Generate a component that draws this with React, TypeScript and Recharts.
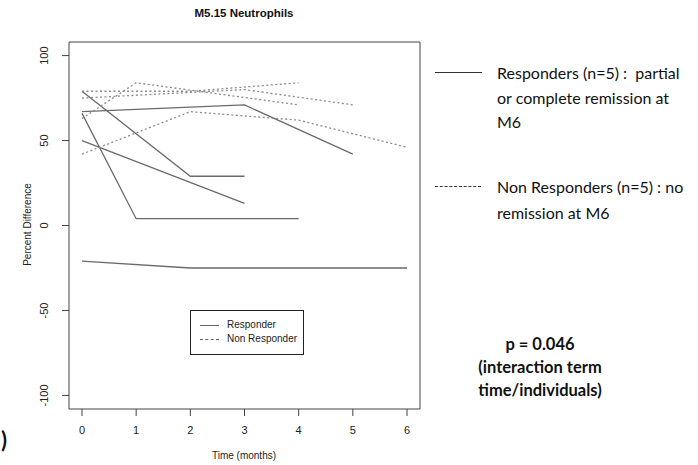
import { LineChart, Line, XAxis, YAxis, ReferenceArea } from "recharts";

// months observed and percent difference for each subject
const responder1 = [[0, 79], [2, 29], [3, 29]];
const responder2 = [[0, 67], [3, 71], [5, 42]];
const responder3 = [[0, 66], [1, 4], [4, 4]];
const responder4 = [[0, 50], [3, 13]];
const responder5 = [[0, -21], [2, -25], [6, -25]];

const nonResponder1 = [[0, 79], [2, 79], [4, 84]];
const nonResponder2 = [[0, 75], [3, 80], [5, 71]];
const nonResponder3 = [[0, 63], [1, 84], [4, 71]];
const nonResponder4 = [[0, 42], [2, 67], [4, 62], [6, 46]];

const xTicks = [0, 1, 2, 3, 4, 5, 6];
const yTicks = [-100, -50, 0, 50, 100];

const responders = [responder1, responder2, responder3, responder4, responder5];
const nonResponders = [nonResponder1, nonResponder2, nonResponder3, nonResponder4];

const toPoints = (rows: number[][]) => rows.map(([t, v]) => ({ t, v }));

const rFont = "'Liberation Sans', Arial, sans-serif";
const sideFont = "Lato, 'Open Sans', sans-serif";

const XTick = (props: any) => {
  const { x, y, payload } = props;
  return (
    <text x={x} y={y + 14} textAnchor="middle" fontSize={11} fill="#222" fontFamily={rFont}>
      {payload.value}
    </text>
  );
};

const YTick = (props: any) => {
  const { x, y, payload } = props;
  const tx = x - 10;
  return (
    <text
      x={tx}
      y={y}
      textAnchor="middle"
      fontSize={11}
      fill="#222"
      fontFamily={rFont}
      transform={`rotate(-90, ${tx}, ${y})`}
    >
      {payload.value}
    </text>
  );
};

export default function App() {
  return (
    <div style={{ position: "absolute", left: 0, top: 0, width: 698, height: 465, background: "#fff", overflow: "hidden" }}>
      <LineChart width={698} height={465} margin={{ top: 42, right: 278, left: 0, bottom: 0 }}>
        <XAxis
          type="number"
          dataKey="t"
          domain={[-0.24, 6.24]}
          ticks={xTicks}
          allowDataOverflow
          axisLine={false}
          tickSize={7}
          tickMargin={4}
          tickLine={{ stroke: "#444" }}
          tick={<XTick />}
          height={56}
        />
        <YAxis
          type="number"
          dataKey="v"
          domain={[-108, 108]}
          ticks={yTicks}
          allowDataOverflow
          axisLine={false}
          tickSize={7}
          tickMargin={4}
          tickLine={{ stroke: "#444" }}
          tick={<YTick />}
          width={69}
        />
        <ReferenceArea x1={-0.24} x2={6.24} y1={-108} y2={108} fill="none" stroke="#444" strokeWidth={1} />
        {responders.map((r, i) => (
          <Line
            key={"r" + i}
            data={toPoints(r)}
            dataKey="v"
            stroke="#6a6a6a"
            strokeWidth={1.3}
            dot={false}
            isAnimationActive={false}
            type="linear"
          />
        ))}
        {nonResponders.map((r, i) => (
          <Line
            key={"n" + i}
            data={toPoints(r)}
            dataKey="v"
            stroke="#8a8a8a"
            strokeWidth={1.3}
            strokeDasharray="2 2.5"
            dot={false}
            isAnimationActive={false}
            type="linear"
          />
        ))}
      </LineChart>

      {/* title and axis labels */}
      <div style={{ position: "absolute", left: 144, width: 200, top: 7, textAlign: "center", fontFamily: rFont, fontWeight: "bold", fontSize: 11.5, color: "#111" }}>
        M5.15 Neutrophils
      </div>
      <div style={{ position: "absolute", left: 194, width: 100, top: 450, textAlign: "center", fontFamily: rFont, fontSize: 10, color: "#222" }}>
        Time (months)
      </div>
      <div style={{ position: "absolute", left: 27 - 60, top: 226 - 7, width: 120, textAlign: "center", fontFamily: rFont, fontSize: 10, color: "#222", transform: "rotate(-90deg)" }}>
        Percent Difference
      </div>

      {/* inner legend */}
      <div style={{ position: "absolute", left: 190, top: 310, width: 112, height: 43, border: "1px solid #222", fontFamily: rFont, fontSize: 10, color: "#222" }}>
        <div style={{ position: "absolute", left: 9, top: 14, width: 19, borderTop: "1.5px solid #666" }} />
        <div style={{ position: "absolute", left: 36, top: 8 }}>Responder</div>
        <div style={{ position: "absolute", left: 9, top: 28, width: 19, borderTop: "1.5px dashed #666" }} />
        <div style={{ position: "absolute", left: 36, top: 22 }}>Non Responder</div>
      </div>

      {/* side legend */}
      <div style={{ position: "absolute", left: 435, top: 72, width: 47, borderTop: "1px solid #333" }} />
      <div style={{ position: "absolute", left: 497, top: 61, width: 200, fontFamily: sideFont, fontSize: 16, lineHeight: "24.5px", color: "#111" }}>
        Responders (n=5) :&nbsp; partial<br />or complete remission at<br />M6
      </div>
      <div style={{ position: "absolute", left: 435, top: 186, width: 46, borderTop: "1px dashed #333" }} />
      <div style={{ position: "absolute", left: 497, top: 174, width: 200, fontFamily: sideFont, fontSize: 16, lineHeight: "26px", color: "#111" }}>
        Non Responders (n=5) : no<br />remission at M6
      </div>

      {/* p value */}
      <div style={{ position: "absolute", left: 440, top: 333, width: 200, textAlign: "center", fontFamily: sideFont, fontWeight: "bold", fontSize: 16.5, lineHeight: "23px", color: "#111" }}>
        p = 0.046<br />(interaction term<br />time/individuals)
      </div>

      <div style={{ position: "absolute", left: 1, top: 426, fontFamily: sideFont, fontWeight: "bold", fontSize: 22, color: "#111" }}>)</div>
    </div>
  );
}
